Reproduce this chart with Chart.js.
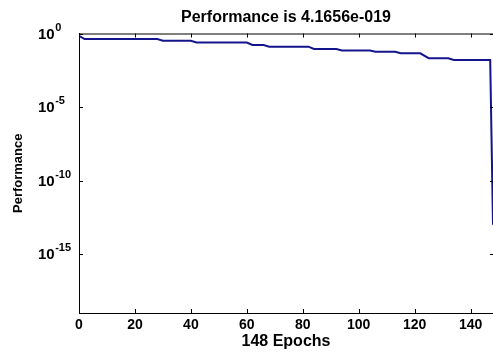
<!DOCTYPE html>
<html>
<head>
<meta charset="utf-8">
<script src="https://cdn.jsdelivr.net/npm/chart.js@4/dist/chart.umd.min.js"></script>
<style>
  body { margin: 0; background: #fff; }
  #wrap { width: 493px; height: 354px; }
</style>
</head>
<body>
<div id="wrap"><canvas id="perfChart" width="493" height="354"></canvas></div>
<script>
// training curve (breakpoints of the step line)
var epochs = [0, 2, 28, 30, 40, 42, 60, 62, 66, 68, 82, 84, 92, 94, 104, 106, 113, 115, 122, 125, 132, 134, 147, 148];
var performance = [0.68, 0.42, 0.42, 0.32, 0.32, 0.245, 0.245, 0.166, 0.166, 0.127, 0.127, 0.089, 0.089, 0.07, 0.07, 0.058, 0.058, 0.045, 0.045, 0.021, 0.021, 0.016, 0.016, 1e-13];

var xTicks = [0, 20, 40, 60, 80, 100, 120, 140];
var yTicks = [1, 1e-5, 1e-10, 1e-15];
var yTickExponents = ["0", "-5", "-10", "-15"];

var fontFamily = "'Liberation Sans', Arial, sans-serif";

function makePoints() {
    var pts = [];
    for (var i = 0; i < epochs.length; i++) {
        pts.push({ x: epochs[i], y: performance[i] });
    }
    return pts;
}

// matlab style frame: top line, inward ticks and 10^n labels with real superscripts
var boxPlugin = {
    id: "boxPlugin",
    afterDraw: function(chart) {
        var ctx = chart.ctx;
        var a = chart.chartArea;
        var xs = chart.scales.x;
        var ys = chart.scales.y;
        ctx.save();
        ctx.strokeStyle = "#000";
        ctx.lineWidth = 1;
        ctx.beginPath();
        ctx.moveTo(a.left, a.top + 0.5);
        ctx.lineTo(a.right, a.top + 0.5);
        xs.ticks.forEach(function(t) {
            var px = Math.round(xs.getPixelForValue(t.value)) + 0.5;
            ctx.moveTo(px, a.bottom);
            ctx.lineTo(px, a.bottom - 4);
            ctx.moveTo(px, a.top);
            ctx.lineTo(px, a.top + 4);
        });
        ys.ticks.forEach(function(t) {
            var py = Math.round(ys.getPixelForValue(t.value)) + 0.5;
            ctx.moveTo(a.left, py);
            ctx.lineTo(a.left + 4, py);
            ctx.moveTo(a.right, py);
            ctx.lineTo(a.right - 3, py);
        });
        ctx.stroke();

        // y tick labels: "10" with raised exponent, bases lined up on the left
        ctx.fillStyle = "#000";
        ctx.textBaseline = "middle";
        ctx.textAlign = "left";
        var baseFont = "bold 15px " + fontFamily;
        var expFont = "bold 11px " + fontFamily;
        var x0 = a.left - 41;
        for (var i = 0; i < yTicks.length; i++) {
            var py = ys.getPixelForValue(yTicks[i]);
            ctx.font = baseFont;
            var baseW = ctx.measureText("10").width;
            ctx.fillText("10", x0, py + 1);
            ctx.font = expFont;
            ctx.fillText(yTickExponents[i], x0 + baseW + 0.5, py - 6);
        }
        ctx.restore();
    }
};

function makeChart() {
    var canvas = document.getElementById("perfChart");
    new Chart(canvas, {
        type: "line",
        data: {
            datasets: [{
                label: "Performance",
                data: makePoints(),
                borderColor: "#14148c",
                borderWidth: 2,
                pointRadius: 0,
                fill: false,
                tension: 0
            }]
        },
        options: {
            responsive: false,
            animation: false,
            devicePixelRatio: 1,
            layout: { padding: 0 },
            plugins: {
                legend: { display: false },
                tooltip: { enabled: false },
                title: { display: false }
            },
            scales: {
                // top axis only carries the title, so it sits centred over the plot
                top: {
                    type: "linear",
                    position: "top",
                    min: 0,
                    max: 148,
                    afterFit: function(scale) { scale.height = 33.5; },
                    grid: { display: false, drawTicks: false },
                    border: { display: false },
                    ticks: { display: false },
                    title: {
                        display: true,
                        text: "Performance is 4.1656e-019",
                        color: "#000",
                        font: { family: fontFamily, size: 16, weight: "bold" },
                        padding: { top: 7.5, bottom: 0 }
                    }
                },
                x: {
                    type: "linear",
                    min: 0,
                    max: 148,
                    afterBuildTicks: function(scale) {
                        scale.ticks = xTicks.map(function(v) { return { value: v }; });
                    },
                    afterFit: function(scale) { scale.height = 41; },
                    grid: { display: true, drawOnChartArea: false, drawTicks: false },
                    border: { display: true, color: "#000", width: 1 },
                    ticks: {
                        autoSkip: false,
                        maxRotation: 0,
                        padding: 4,
                        color: "#000",
                        font: { family: fontFamily, size: 14, weight: "bold" }
                    },
                    title: {
                        display: true,
                        text: "148 Epochs",
                        color: "#000",
                        font: { family: fontFamily, size: 16, weight: "bold" },
                        padding: { top: 0, bottom: 3 }
                    }
                },
                y: {
                    type: "logarithmic",
                    min: 1e-19,
                    max: 1,
                    afterBuildTicks: function(scale) {
                        scale.ticks = yTicks.map(function(v) { return { value: v }; });
                    },
                    afterFit: function(scale) { scale.width = 79; },
                    grid: { display: true, drawOnChartArea: false, drawTicks: false },
                    border: { display: true, color: "#000", width: 1 },
                    ticks: { display: false },
                    title: {
                        display: true,
                        text: "Performance",
                        color: "#000",
                        font: { family: fontFamily, size: 13, weight: "bold" },
                        padding: { top: 11, bottom: 0 }
                    }
                }
            }
        },
        plugins: [boxPlugin]
    });
}

makeChart();
</script>
</body>
</html>
